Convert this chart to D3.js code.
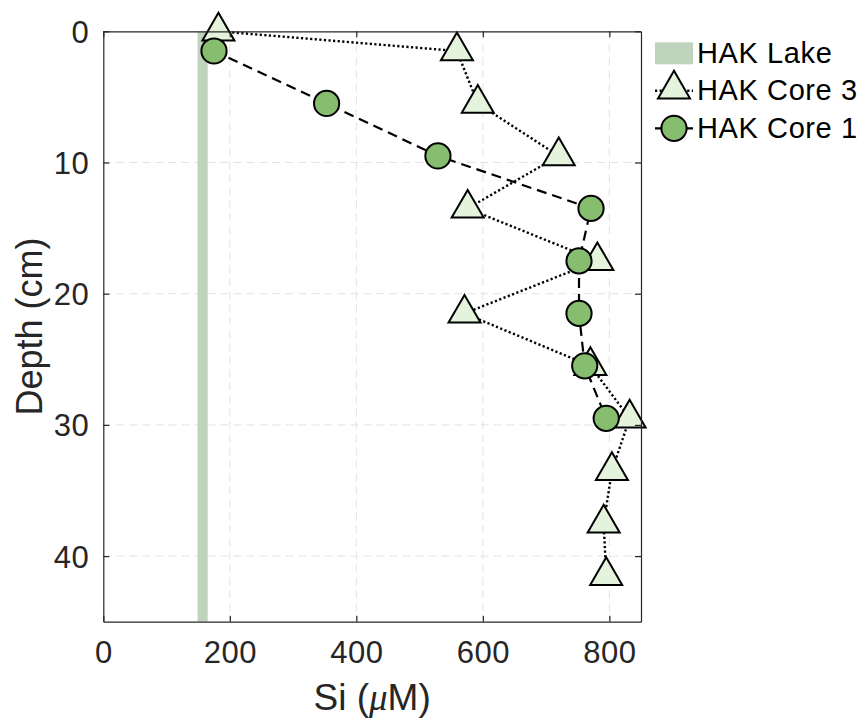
<!DOCTYPE html>
<html>
<head>
<meta charset="utf-8">
<script src="https://cdn.jsdelivr.net/npm/d3@7"></script>
<style>
  body { margin: 0; background: #fff; }
  svg text { font-family: "Liberation Sans", Arial, Helvetica, sans-serif; }
</style>
</head>
<body>
<div id="chart"></div>
<script>
// Si profiles, depth in cm, Si in uM
var core3Depth = [0, 1.5, 5.5, 9.5, 13.5, 17.5, 21.5, 25.5, 29.5, 33.5, 37.5, 41.5];
var core3Si    = [182, 559, 592, 720, 576, 781, 571, 770, 832, 804, 791, 795];
var core1Depth = [1.5, 5.5, 9.5, 13.5, 17.5, 21.5, 25.5, 29.5];
var core1Si    = [175, 353, 529, 771, 752, 752, 761, 795];
// lake value: mean and half width of the band
var lakeSi = 157;
var lakeHalf = 8;
var xTicks = [0, 200, 400, 600, 800];
var yTicks = [0, 10, 20, 30, 40];
var legendNames = ["HAK Lake", "HAK Core 3", "HAK Core 1"];

var width = 868, height = 721;
var margin = {top: 31.3, right: 227, bottom: 99.3, left: 103.3};

var lakeColor = "#c0d3bd";
var triColor = "#e3f3dc";
var dotColor = "#86bd6f";
var axisColor = "#262626";

var svg = d3.select("#chart").append("svg")
    .attr("width", width)
    .attr("height", height);

var x = d3.scaleLinear().domain([0, 850]).range([margin.left, width - margin.right]);
var y = d3.scaleLinear().domain([0, 45]).range([margin.top, height - margin.bottom]);

var x0 = x.range()[0], x1 = x.range()[1];
var y0 = y.range()[0], y1 = y.range()[1];

// grid
var grid = svg.append("g").attr("class", "grid");
grid.selectAll(".gx").data(xTicks.slice(1)).enter().append("line")
    .attr("x1", function(d) { return x(d); })
    .attr("x2", function(d) { return x(d); })
    .attr("y1", y0).attr("y2", y1)
    .attr("stroke", "#e3e3e3").attr("stroke-width", 1)
    .attr("stroke-dasharray", "8,5");
grid.selectAll(".gy").data(yTicks.slice(1)).enter().append("line")
    .attr("y1", function(d) { return y(d); })
    .attr("y2", function(d) { return y(d); })
    .attr("x1", x0).attr("x2", x1)
    .attr("stroke", "#e3e3e3").attr("stroke-width", 1)
    .attr("stroke-dasharray", "8,5");

// lake band
svg.append("rect")
    .attr("x", x(lakeSi - lakeHalf))
    .attr("width", x(lakeSi + lakeHalf) - x(lakeSi - lakeHalf))
    .attr("y", y0)
    .attr("height", y1 - y0)
    .attr("fill", lakeColor);

// triangle marker, centroid at data point
function triPath(cx, cy) {
    return "M" + cx + "," + (cy - 18.5) +
           "L" + (cx + 16) + "," + (cy + 9.2) +
           "L" + (cx - 16) + "," + (cy + 9.2) + "Z";
}

var core3 = core3Depth.map(function(d, i) { return [core3Si[i], d]; });
var core1 = core1Depth.map(function(d, i) { return [core1Si[i], d]; });

var line = d3.line()
    .x(function(d) { return x(d[0]); })
    .y(function(d) { return y(d[1]); });

// core 3: dotted line + triangles
svg.append("path")
    .datum(core3)
    .attr("d", line)
    .attr("fill", "none")
    .attr("stroke", "#000")
    .attr("stroke-width", 2.4)
    .attr("stroke-dasharray", "2.2,2.4");

svg.selectAll(".tri")
    .data(core3)
    .enter().append("path")
    .attr("class", "tri")
    .attr("d", function(d) { return triPath(x(d[0]), y(d[1])); })
    .attr("fill", triColor)
    .attr("stroke", "#000")
    .attr("stroke-width", 2)
    .attr("stroke-linejoin", "miter");

// core 1: dashed line + circles
svg.append("path")
    .datum(core1)
    .attr("d", line)
    .attr("fill", "none")
    .attr("stroke", "#000")
    .attr("stroke-width", 2.2)
    .attr("stroke-dasharray", "10,6");

svg.selectAll(".dot")
    .data(core1)
    .enter().append("circle")
    .attr("class", "dot")
    .attr("cx", function(d) { return x(d[0]); })
    .attr("cy", function(d) { return y(d[1]); })
    .attr("r", 12.6)
    .attr("fill", dotColor)
    .attr("stroke", "#000")
    .attr("stroke-width", 2);

// axes, ticks inward on all four sides
function styleAxis(g) {
    g.select(".domain").attr("stroke", axisColor).attr("stroke-width", 1.2);
    g.selectAll(".tick line").attr("stroke", axisColor).attr("stroke-width", 1.2);
}

var xAxis = svg.append("g")
    .attr("transform", "translate(0," + y1 + ")")
    .call(d3.axisBottom(x).tickValues(xTicks).tickSize(-6).tickSizeOuter(0));
styleAxis(xAxis);
xAxis.selectAll(".tick text")
    .attr("y", 41.5).attr("dy", 0)
    .attr("fill", axisColor)
    .style("font-size", "31px")
    .style("letter-spacing", "0.5px");

var xTop = svg.append("g")
    .attr("transform", "translate(0," + y0 + ")")
    .call(d3.axisTop(x).tickValues(xTicks).tickSize(-6).tickSizeOuter(0).tickFormat(""));
styleAxis(xTop);

var yAxis = svg.append("g")
    .attr("transform", "translate(" + x0 + ",0)")
    .call(d3.axisLeft(y).tickValues(yTicks).tickSize(-6).tickSizeOuter(0));
styleAxis(yAxis);
yAxis.selectAll(".tick text")
    .attr("x", -14).attr("y", 11).attr("dy", 0)
    .attr("fill", axisColor)
    .style("font-size", "31px")
    .style("letter-spacing", "0.5px");

var yRight = svg.append("g")
    .attr("transform", "translate(" + x1 + ",0)")
    .call(d3.axisRight(y).tickValues(yTicks).tickSize(-6).tickSizeOuter(0).tickFormat(""));
styleAxis(yRight);

// axis titles
var xt = svg.append("text")
    .attr("x", (x0 + x1) / 2)
    .attr("y", 710)
    .attr("text-anchor", "middle")
    .attr("fill", axisColor)
    .style("font-size", "37px");
xt.append("tspan").text("Si (");
xt.append("tspan").text("\u03bc")
    .style("font-family", "'Liberation Serif', 'DejaVu Serif', serif")
    .style("font-style", "italic");
xt.append("tspan").text("M)");

svg.append("text")
    .attr("transform", "translate(42," + ((y0 + y1) / 2) + ") rotate(-90)")
    .attr("text-anchor", "middle")
    .attr("fill", axisColor)
    .style("font-size", "36px")
    .text("Depth (cm)");

// legend
var legend = svg.append("g").attr("transform", "translate(655,0)");
var rowY = [53.3, 90.8, 128.3];

legend.append("rect")
    .attr("x", 0).attr("y", rowY[0] - 11)
    .attr("width", 38).attr("height", 22)
    .attr("fill", lakeColor);

legend.append("line")
    .attr("x1", 0).attr("x2", 38)
    .attr("y1", rowY[1]).attr("y2", rowY[1])
    .attr("stroke", "#000").attr("stroke-width", 2.4)
    .attr("stroke-dasharray", "2.2,2.4");
legend.append("path")
    .attr("d", triPath(19, rowY[1] - 1.5))
    .attr("fill", triColor).attr("stroke", "#000").attr("stroke-width", 2);

legend.append("line")
    .attr("x1", 0).attr("x2", 38)
    .attr("y1", rowY[2]).attr("y2", rowY[2])
    .attr("stroke", "#000").attr("stroke-width", 2.2)
    .attr("stroke-dasharray", "10,6");
legend.append("circle")
    .attr("cx", 19).attr("cy", rowY[2]).attr("r", 12.6)
    .attr("fill", dotColor).attr("stroke", "#000").attr("stroke-width", 2);

legend.selectAll(".ltext")
    .data(legendNames)
    .enter().append("text")
    .attr("x", 42)
    .attr("y", function(d, i) { return rowY[i] + 9.5; })
    .attr("fill", "#000")
    .style("font-size", "29px")
    .style("letter-spacing", "0.6px")
    .text(function(d) { return d; });
</script>
</body>
</html>
